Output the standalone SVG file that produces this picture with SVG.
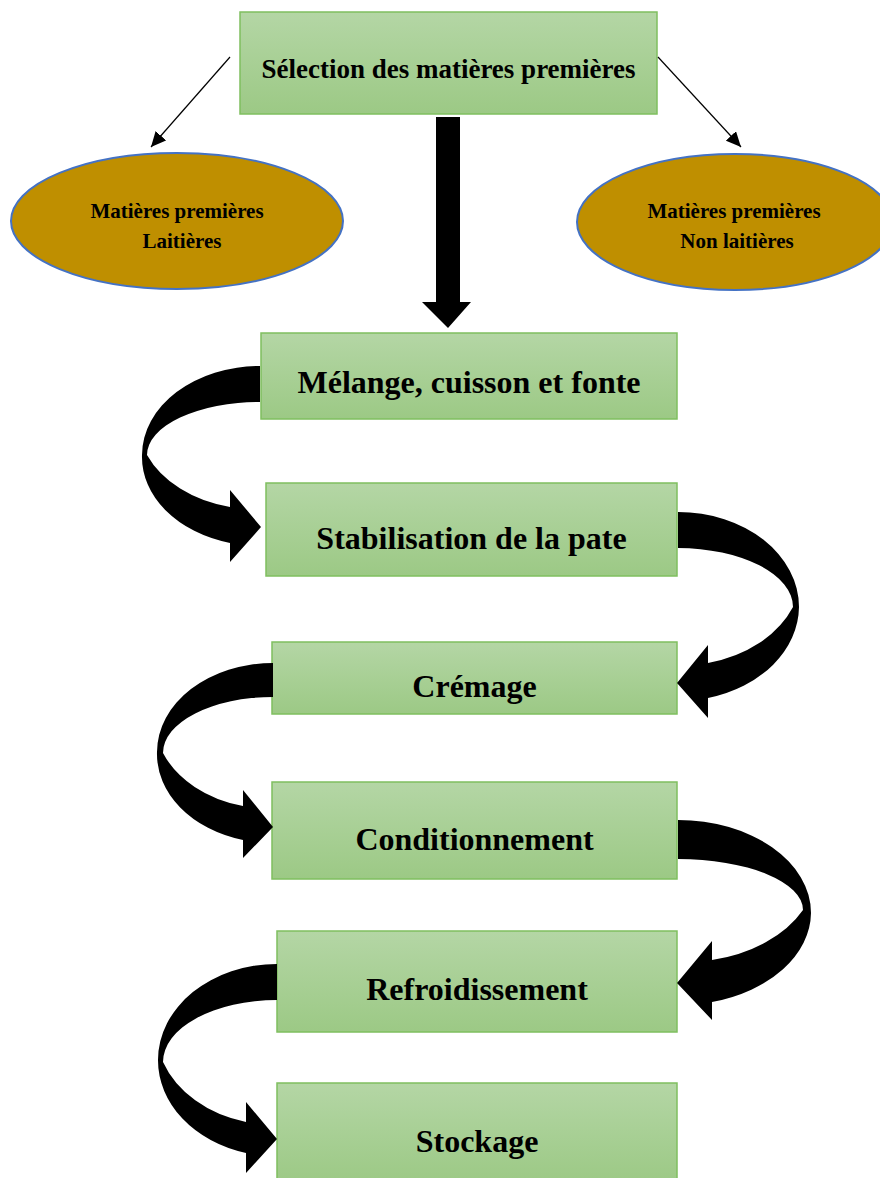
<svg xmlns="http://www.w3.org/2000/svg" width="880" height="1178" viewBox="0 0 880 1178">
<style>
.box{fill:url(#g);stroke:#7fbf5f;stroke-width:1.5}
.ell{fill:#bf8f00;stroke:#4472c4;stroke-width:2}
.t{font-family:"Liberation Serif","Times New Roman",serif;font-weight:bold;fill:#000;text-anchor:middle}
.big{font-size:32px}
.arrow{fill:#000;stroke:none}
.thin{stroke:#000;stroke-width:1.2;fill:none}
</style>
<defs>
<linearGradient id="g" x1="0" y1="0" x2="0" y2="1">
<stop offset="0" stop-color="#b4d6a5"/>
<stop offset="1" stop-color="#9cc985"/>
</linearGradient>
<marker id="ah" markerUnits="userSpaceOnUse" markerWidth="16" markerHeight="14" refX="15" refY="7" orient="auto">
<path d="M0,0 L15,7 L0,14 Z" fill="#000"/>
</marker>
</defs>
<rect width="880" height="1178" fill="#fff"/>
<g id="n-selection">
<rect class="box" x="240" y="12" width="417" height="102"/>
<text class="t" x="448.5" y="78" font-size="27">Sélection des matières premières</text>
</g>
<g id="n-laitieres">
<ellipse class="ell" cx="177" cy="221" rx="166" ry="68"/>
<text class="t" x="177" y="218" font-size="21">Matières premières</text>
<text class="t" x="182" y="248" font-size="21">Laitières</text>
</g>
<g id="n-nonlaitieres">
<ellipse class="ell" cx="735" cy="222" rx="158" ry="68"/>
<text class="t" x="734" y="218" font-size="21">Matières premières</text>
<text class="t" x="737" y="248" font-size="21">Non laitières</text>
</g>
<g id="n-melange">
<rect class="box" x="261" y="333" width="416" height="86"/>
<text class="t big" x="469" y="393">Mélange, cuisson et fonte</text>
</g>
<g id="n-stabilisation">
<rect class="box" x="266" y="483" width="411" height="93"/>
<text class="t big" x="471.5" y="549">Stabilisation de la pate</text>
</g>
<g id="n-cremage">
<rect class="box" x="272" y="642" width="405" height="72"/>
<text class="t big" x="474.5" y="697">Crémage</text>
</g>
<g id="n-conditionnement">
<rect class="box" x="272" y="782" width="405" height="97"/>
<text class="t big" x="474.5" y="850">Conditionnement</text>
</g>
<g id="n-refroidissement">
<rect class="box" x="277" y="931" width="400" height="101"/>
<text class="t big" x="477" y="1000">Refroidissement</text>
</g>
<g id="n-stockage">
<rect class="box" x="277" y="1083" width="400" height="100"/>
<text class="t big" x="477" y="1152">Stockage</text>
</g>
<g id="connectors">
<line class="thin" x1="230" y1="57" x2="151" y2="147" marker-end="url(#ah)"/>
<line class="thin" x1="658" y1="57" x2="741" y2="147" marker-end="url(#ah)"/>
<path class="arrow" d="M436,117 L460,117 L460,302 L471,302 L448,328 L422,302 L436,302 Z"/>
<path class="arrow" d="M260,366 A118,89 0 0 0 142,455 A118,89 0 0 0 230,543 L230,562 L261,527 L230,490 L230,507 A118,89 0 0 1 147,455 A113,53 0 0 1 260,402 Z"/>
<path class="arrow" d="M678,512 A121,95 0 0 1 799,607 A121,95 0 0 1 708,698 L708,718 L677,683 L708,645 L708,663 A121,95 0 0 0 793,607 A115,59 0 0 0 678,548 Z"/>
<path class="arrow" d="M273,663 A116,89 0 0 0 157,752 A116,89 0 0 0 243,840 L243,858 L273,827 L243,790 L243,806 A116,89 0 0 1 163,753 A110,56 0 0 1 273,697 Z"/>
<path class="arrow" d="M678,820 A133,93 0 0 1 811,913 A133,93 0 0 1 712,1002 L712,1020 L677,983 L712,941 L712,960 A133,93 0 0 0 803,910 A125,51 0 0 0 678,859 Z"/>
<path class="arrow" d="M277,964 A119,96 0 0 0 158,1060 A119,96 0 0 0 246,1153 L246,1173 L277,1139 L246,1102 L246,1122 A119,96 0 0 1 163,1062 A114,62 0 0 1 277,1000 Z"/>
</g>
</svg>
